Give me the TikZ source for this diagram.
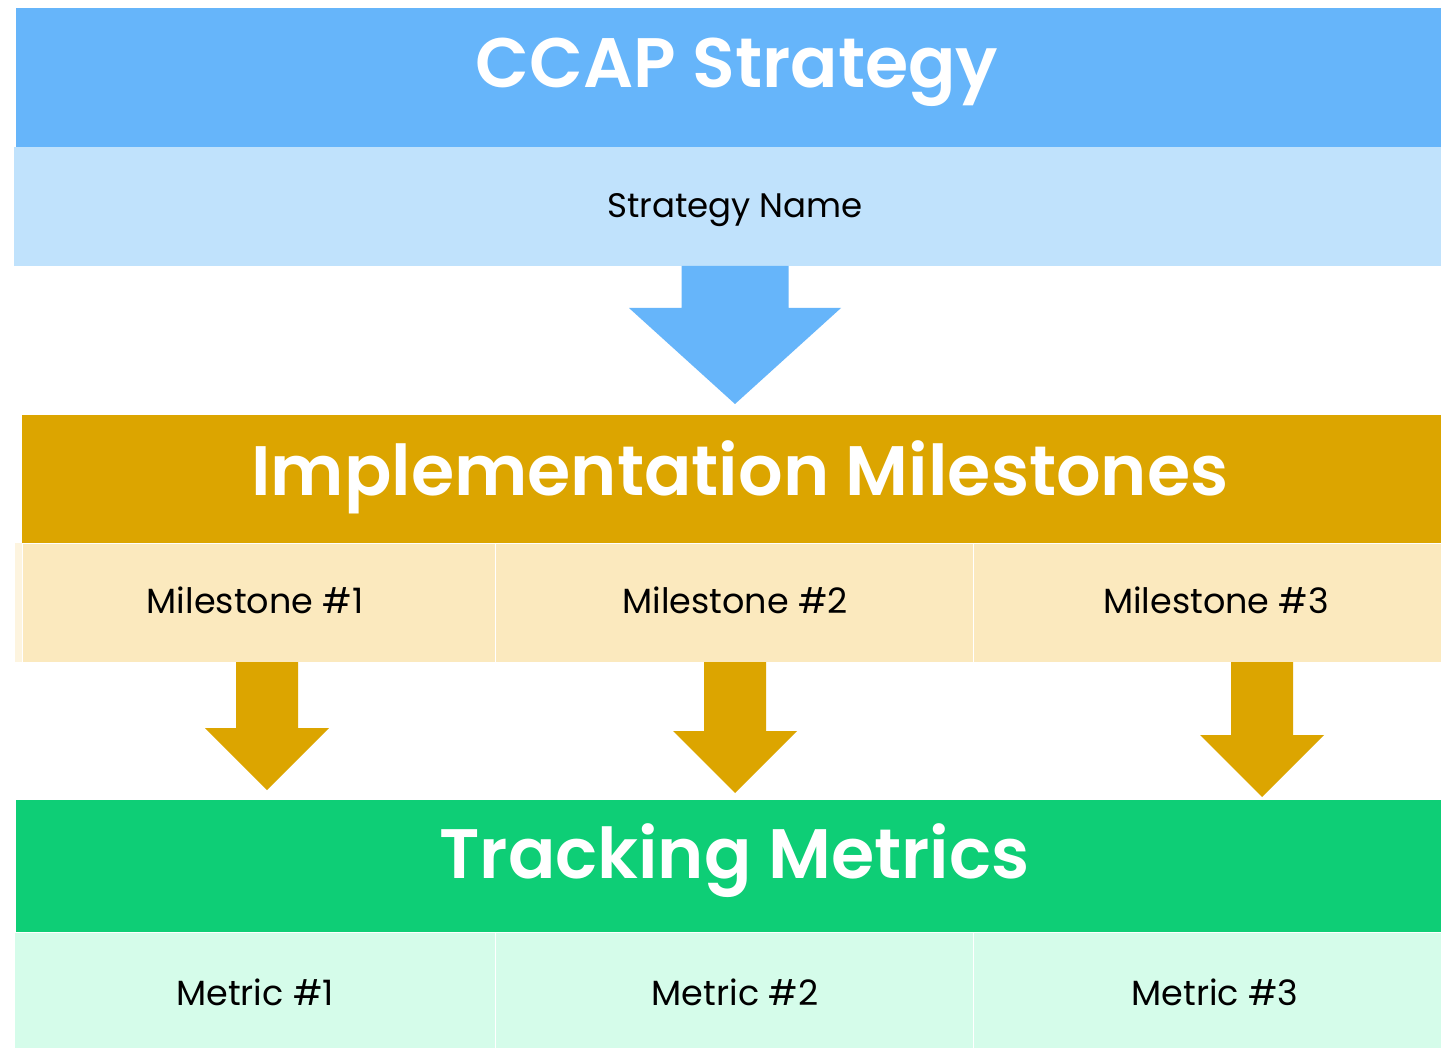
\documentclass[tikz,border=0pt]{standalone}
\usepackage{fontspec}
\setmainfont{Poppins}[BoldFont={Poppins SemiBold}]
\usetikzlibrary{positioning}
\definecolor{stratblue}{HTML}{66B5FA}
\definecolor{stratlight}{HTML}{C0E2FC}
\definecolor{mstgold}{HTML}{DCA500}
\definecolor{mstlight}{HTML}{FBE9BE}
\definecolor{metgreen}{HTML}{0ECE76}
\definecolor{metlight}{HTML}{D5FCEA}
\tikzset{
  band/.style={anchor=north west, inner sep=0pt, outer sep=0pt, draw=none},
  headtxt/.style={anchor=base, inner sep=0pt, text=white, font=\fontsize{70}{76}\selectfont\bfseries},
  celltxt/.style={anchor=base, inner sep=0pt, text=black, font=\fontsize{35}{40}\selectfont},
  cellbox/.style={band, draw=white!60, line width=0.8pt},
}
% block arrow: centre x, top y, shoulder y, tip y, shaft half width, head half width, colour
\newcommand{\blockarrow}[7]{%
  \fill[#7] (#1-#5,#2) -- (#1+#5,#2) -- (#1+#5,#3) -- (#1+#6,#3) -- (#1,#4)
    -- (#1-#6,#3) -- (#1-#5,#3) -- cycle;}
\begin{document}
\begin{tikzpicture}[x=1pt,y=-1pt,line join=miter]
	\useasboundingbox[fill=white] (0,0) rectangle (1441,1048);
	% strategy
	\node[band, fill=stratblue, minimum width=1425pt, minimum height=139pt] (ccap) at (16,8) {};
	\node[band, fill=stratlight, minimum width=1427pt, minimum height=119pt] (stratname) at (14,147) {};
	\node[headtxt] (ccaptxt) at (737,88) {CCAP Strategy};
	\node[celltxt, font=\fontsize{34}{40}\selectfont] (stratnametxt) at (735,218) {Strategy Name};
	\blockarrow{735}{266}{308}{404}{53.5}{106}{stratblue}
	% milestones
	\node[band, fill=mstgold, minimum width=1419pt, minimum height=128pt] (impl) at (22,415) {};
	\fill[mstlight!50!white] (15,543) rectangle (22,662);
	\node[cellbox, fill=mstlight, minimum width=473pt, minimum height=119pt] (mst1) at (22,543) {};
	\node[cellbox, fill=mstlight, minimum width=478pt, minimum height=119pt] (mst2) at (495,543) {};
	\node[cellbox, fill=mstlight, minimum width=468pt, minimum height=119pt] (mst3) at (973,543) {};
	\node[headtxt] (impltxt) at (740,495) {Implementation Milestones};
	\node[celltxt] (mst1txt) at (255,613) {Milestone \#1};
	\node[celltxt] (mst2txt) at (735,613) {Milestone \#2};
	\node[celltxt] (mst3txt) at (1216,613) {Milestone \#3};
	\blockarrow{267}{662}{728}{790}{31}{62}{mstgold}
	\blockarrow{735}{662}{731}{793}{31}{62}{mstgold}
	\blockarrow{1262}{662}{735}{797}{31}{62}{mstgold}
	% metrics
	\node[band, fill=metgreen, minimum width=1425pt, minimum height=132pt] (track) at (16,800) {};
	\node[cellbox, fill=metlight, minimum width=481pt, minimum height=116pt] (met1) at (14,932) {};
	\node[cellbox, fill=metlight, minimum width=478pt, minimum height=116pt] (met2) at (495,932) {};
	\node[cellbox, fill=metlight, minimum width=468pt, minimum height=116pt] (met3) at (973,932) {};
	\node[headtxt] (tracktxt) at (734.5,878) {Tracking Metrics};
	\node[celltxt] (met1txt) at (255,1005) {Metric \#1};
	\node[celltxt] (met2txt) at (735,1005) {Metric \#2};
	\node[celltxt] (met3txt) at (1215,1005) {Metric \#3};
\end{tikzpicture}
\end{document}
